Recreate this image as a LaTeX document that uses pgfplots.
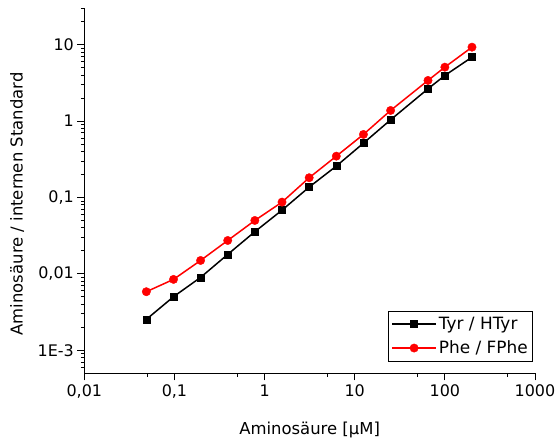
\documentclass[border=0pt]{standalone}
\usepackage{fontspec}
\setmainfont{DejaVu Sans}
\usepackage{pgfplots}
\pgfplotsset{compat=1.18}
\begin{document}
\begin{tikzpicture}
\begin{axis}[
  name=ax,
  scale only axis, width=450.7bp, height=365bp,
  xmode=log, ymode=log,
  xmin=0.01, xmax=1000, ymin=5e-4, ymax=30,
  axis x line*=bottom, axis y line*=left,
  axis line style={line width=1.2bp,-},
  xtick={0.01,0.1,1,10,100,1000},
  xticklabels={{0,01},{0,1},1,10,100,1000},
  minor xtick={0.05,0.5,5,50,500},
  ytick={0.001,0.01,0.1,1,10},
  yticklabels={1E-3,{0,01},{0,1},1,10},
  minor ytick={6e-4,7e-4,8e-4,9e-4,
    0.002,0.003,0.004,0.005,0.006,0.007,0.008,0.009,
    0.02,0.03,0.04,0.05,0.06,0.07,0.08,0.09,
    0.2,0.3,0.4,0.5,0.6,0.7,0.8,0.9,
    2,3,4,5,6,7,8,9,20,30},
  tick align=outside, major tick length=7bp, minor tick length=3.5bp,
  tick style={line width=1bp, black},
  ticklabel style={font=\fontsize{16}{19}\selectfont},
  xticklabel style={yshift=-1bp},
  xlabel={Aminosäure [µM]},
  ylabel={Aminosäure / internen Standard},
  label style={font=\fontsize{16.5}{19}\selectfont},
  xlabel style={at={(axis description cs:0.5,-0.154)}, anchor=center},
  ylabel style={at={(axis description cs:-0.149,0.464)}, anchor=center},
  legend style={at={(0.996,0.032)}, anchor=south east, draw=black, line width=0.8bp,
    font=\fontsize{17}{20}\selectfont, inner xsep=3bp, inner ysep=4bp, row sep=6bp, cells={anchor=west}},
  legend image code/.code={\draw[mark repeat=2,mark phase=2] plot coordinates {(0bp,0bp) (22bp,0bp) (44bp,0bp)};},
]
\addplot[black, line width=1.5bp, mark=square*, mark size=3.5bp, mark options={line width=0.4bp}] coordinates {
(0.0488,0.00254) (0.0977,0.00503) (0.195,0.0090) (0.39,0.0180) (0.78,0.0357)
(1.5625,0.0684) (3.125,0.137) (6.25,0.258) (12.5,0.515) (25,1.04)
(65,2.65) (100,3.96) (200,6.88)};
\addlegendentry{Tyr / HTyr}
\addplot[red, line width=1.5bp, mark=*, mark size=4.2bp, mark options={line width=0.4bp}] coordinates {
(0.0488,0.00585) (0.0977,0.00848) (0.195,0.0150) (0.39,0.0274) (0.78,0.0501)
(1.5625,0.0871) (3.125,0.1816) (6.25,0.348) (12.5,0.67) (25,1.38)
(65,3.41) (100,5.09) (200,9.3)};
\addlegendentry{Phe / FPhe}
\end{axis}
\pgfresetboundingbox
\path[use as bounding box] ([xshift=-84.3bp,yshift=-66.7bp]ax.south west) rectangle ([xshift=22bp,yshift=8.3bp]ax.north east);
\end{tikzpicture}
\end{document}
